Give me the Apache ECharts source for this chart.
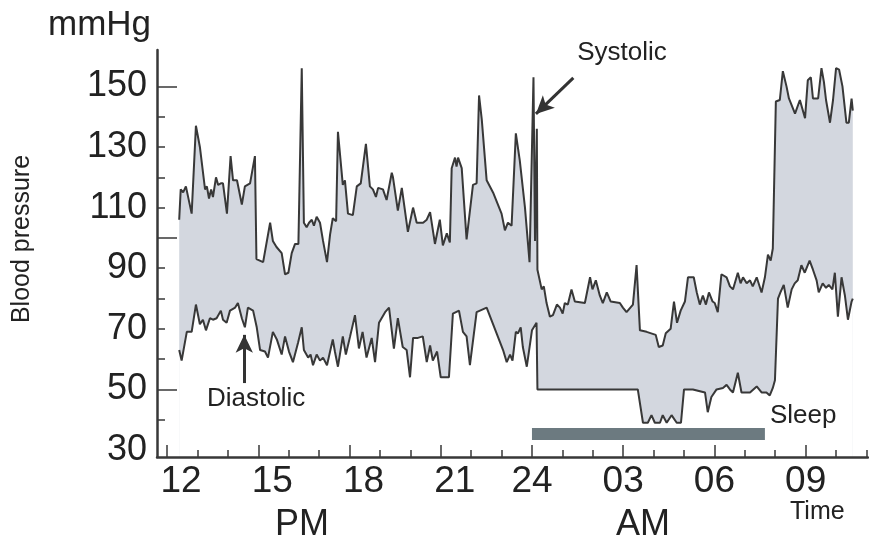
<!DOCTYPE html>
<html>
<head>
<meta charset="utf-8">
<style>
  html, body { margin: 0; padding: 0; background: #fff; }
  #chart { width: 869px; height: 543px; }
</style>
<script src="https://cdn.jsdelivr.net/npm/echarts@6.0.0/dist/echarts.min.js"></script>
</head>
<body>
<div id="chart"></div>
<script>
// time is in hours counted from noon of day 1 (24 = midnight, 27 = 03 AM, 33 = 09 AM)
const sysTime = [
  12.40, 12.45, 12.53, 12.62, 12.81, 12.95, 13.08, 13.25, 13.31, 13.38,
  13.45, 13.51, 13.61, 13.68, 13.77, 13.84, 13.97, 14.09, 14.17, 14.30,
  14.46, 14.56, 14.73, 14.89, 14.94, 15.16, 15.39, 15.48, 15.60, 15.77,
  15.88, 15.99, 16.10, 16.21, 16.32, 16.43, 16.50, 16.59, 16.67, 16.76,
  16.83, 16.92, 17.03, 17.13, 17.26, 17.36, 17.45, 17.56, 17.62, 17.78,
  17.85, 17.95, 18.11, 18.24, 18.37, 18.54, 18.67, 18.77, 18.87, 18.94,
  19.10, 19.22, 19.39, 19.43, 19.59, 19.72, 19.92, 20.09, 20.21, 20.32,
  20.42, 20.54, 20.65, 20.81, 20.97, 21.07, 21.20, 21.30, 21.36, 21.47,
  21.52, 21.57, 21.63, 21.69, 21.85, 22.06, 22.18, 22.26, 22.35, 22.51,
  22.72, 23.00, 23.11, 23.21, 23.33, 23.47, 23.60, 23.77, 23.87, 23.92,
  24.05, 24.10, 24.16, 24.18, 24.32, 24.39, 24.48, 24.59, 24.69, 24.82,
  24.92, 25.01, 25.08, 25.18, 25.30, 25.41, 25.74, 25.91, 25.99, 26.10,
  26.23, 26.33, 26.46, 26.59, 26.89, 26.99, 27.11, 27.32, 27.44, 27.55,
  27.77, 28.07, 28.17, 28.30, 28.40, 28.56, 28.67, 28.77, 28.89, 29.03,
  29.13, 29.32, 29.42, 29.52, 29.62, 29.72, 29.82, 29.94, 30.01, 30.11,
  30.23, 30.40, 30.51, 30.61, 30.77, 30.86, 30.94, 31.06, 31.17, 31.26,
  31.39, 31.55, 31.66, 31.76, 31.85, 31.92, 32.02, 32.15, 32.25, 32.37,
  32.45, 32.65, 32.81, 32.98, 33.07, 33.17, 33.24, 33.41, 33.52, 33.60,
  33.67, 33.80, 33.90, 34.00, 34.10, 34.21, 34.34, 34.42, 34.51, 34.55
];
const sysValue = [
  106, 116, 115, 117, 108, 137, 130, 116, 117, 113,
  116, 113.5, 120, 117.5, 118, 118, 108, 127, 119, 119,
  111, 117, 118, 127, 93, 92, 105, 99, 97, 95,
  88, 88.5, 95, 98, 98, 156, 105, 103.5, 105, 106,
  104, 107, 105, 99, 92, 101, 106.5, 105.5, 135, 117.5,
  119, 108, 107.5, 117, 118, 131, 117, 116, 113.5, 116.5,
  116, 112.5, 121.5, 120, 109, 116.5, 102, 110, 105, 105,
  105, 106, 108.5, 98, 106, 97.5, 101.5, 98.5, 123, 126.5,
  123.5, 126.5, 126.5, 123, 99.5, 117.5, 118, 147, 139, 119,
  115, 108, 102.5, 105, 104, 134.5, 125.5, 110, 98, 92,
  153, 99, 136, 89.5, 83, 84, 78.5, 74, 74.5, 78,
  77, 75, 78.5, 78, 83, 79, 78.5, 87, 83, 86,
  81, 78.5, 82, 79, 78.5, 77, 75.5, 78, 91, 69.5,
  69, 68, 64, 64.5, 68.5, 70, 79, 72, 76, 79,
  87, 87, 82, 78, 81, 78, 82, 79, 78.5, 75.5,
  88, 87, 84, 83, 88.5, 85, 87, 85, 86, 84,
  87, 82, 87, 94.5, 92.5, 96.5, 145, 145.5, 155, 150,
  146, 141, 145.5, 139.5, 152, 153, 146, 146, 156, 151.5,
  145.5, 138, 145.5, 156, 155.5, 150, 138, 138, 146, 142
];
const diaTime = [
  12.40, 12.48, 12.65, 12.81, 12.95, 13.08, 13.18, 13.28, 13.41, 13.51,
  13.63, 13.77, 13.84, 13.96, 14.07, 14.24, 14.33, 14.46, 14.56, 14.66,
  14.83, 14.95, 15.06, 15.22, 15.32, 15.48, 15.61, 15.77, 15.88, 16.01,
  16.14, 16.31, 16.43, 16.50, 16.64, 16.72, 16.80, 16.92, 17.03, 17.13,
  17.26, 17.45, 17.52, 17.62, 17.78, 17.88, 18.02, 18.18, 18.31, 18.43,
  18.56, 18.73, 18.84, 18.97, 19.17, 19.30, 19.46, 19.59, 19.75, 19.88,
  19.99, 20.09, 20.25, 20.41, 20.54, 20.65, 20.74, 20.88, 21.00, 21.27,
  21.40, 21.60, 21.73, 21.85, 21.96, 22.18, 22.51, 23.05, 23.17, 23.28,
  23.36, 23.47, 23.54, 23.63, 23.70, 23.83, 24.00, 24.15, 24.18, 27.48,
  27.65, 27.81, 27.93, 28.04, 28.21, 28.30, 28.43, 28.59, 28.76, 28.90,
  29.00, 29.29, 29.69, 29.78, 29.90, 30.07, 30.28, 30.40, 30.51, 30.61,
  30.77, 30.89, 31.06, 31.17, 31.39, 31.55, 31.71, 31.82, 31.92, 31.99,
  32.09, 32.17, 32.28, 32.41, 32.54, 32.64, 32.74, 32.86, 32.97, 33.13,
  33.24, 33.36, 33.43, 33.56, 33.67, 33.76, 33.88, 33.96, 34.06, 34.18,
  34.29, 34.39, 34.51, 34.55
];
const diaValue = [
  63, 59.5, 69, 69, 78, 71.5, 73, 69.5, 73.5, 73,
  73.5, 76, 73, 72, 76, 77, 78.5, 73.5, 70.5, 77,
  76, 70.5, 63, 62.5, 60.5, 69, 66.5, 61.5, 67.5, 62.5,
  59, 65.5, 70.5, 63, 60.5, 61.5, 58, 61.5, 59.5, 60.5,
  58, 66.5, 62.5, 57.5, 67.5, 61.5, 67.5, 74.5, 63.5, 69,
  60.5, 67, 59, 72, 75.5, 77, 63.5, 73.5, 64, 63,
  54, 67, 67, 67.5, 59, 64.5, 59.5, 62.5, 54, 54,
  75, 76, 69, 67.5, 58, 75.5, 77, 63, 59, 61.5,
  59.5, 69, 68.5, 70.5, 64, 57.5, 69.5, 72, 50, 50,
  39, 39, 41.5, 39, 39, 41.5, 39, 41.5, 39, 39,
  50, 50, 49, 42.5, 47.5, 50, 50.5, 51.5, 50, 49,
  55.5, 49, 49, 49, 51, 49, 49, 48, 50.5, 53,
  80, 82, 84.5, 77, 83, 85, 86, 91, 88.5, 92.5,
  89.5, 86, 82, 85, 83.5, 84.5, 83, 88.5, 74, 87,
  81, 73, 79, 80
];
const hourTicks = [12, 15, 18, 21, 24, 27, 30, 33];
const hourText = ['12', '15', '18', '21', '24', '03', '06', '09'];
const valueTicks = [30, 50, 70, 90, 110, 130, 150];
const sleepSpan = [24.0, 31.66];
const sleepLevel = 35.3;

const FONT = "'Liberation Sans', Arial, sans-serif";
const INK = '#222';
const LINE = '#383838';

const hourly = [];
for (let h = 12; h <= 35; h++) hourly.push(h);
const tens = [];
for (let v = 40; v <= 150; v += 10) tens.push(v);

const chart = echarts.init(document.getElementById('chart'));

const pair = (xs, ys) => xs.map((x, i) => [x, ys[i]]);

const xRange = { min: 11.67, max: 35.05 };
const yRange = { min: 27.7, max: 162 };

chart.setOption({
  animation: false,
  backgroundColor: '#fff',
  grid: { left: 157, right: 1, top: 50, bottom: 86 },
  xAxis: [{
    type: 'value', min: xRange.min, max: xRange.max, z: 10,
    axisLine: { show: true, lineStyle: { color: LINE, width: 2.5 } },
    axisTick: { show: true, inside: true, length: 7, customValues: hourly, lineStyle: { color: LINE, width: 1.5 } },
    splitLine: { show: false },
    axisLabel: {
      customValues: hourTicks, margin: 6, color: INK, fontSize: 37, fontFamily: FONT,
      formatter: v => {
        const t = hourText[hourTicks.indexOf(Math.round(v))];
        return v < 24 ? '{pm|' + t + '}' : t;
      },
      rich: { pm: { padding: [0, 0, 0, 28], fontSize: 37, fontFamily: FONT, color: INK } }
    }
  }, {
    type: 'value', min: xRange.min, max: xRange.max, position: 'bottom', z: 10,
    axisLine: { show: false },
    axisTick: { show: true, inside: true, length: 12, customValues: hourTicks, lineStyle: { color: LINE, width: 1.5 } },
    axisLabel: { show: false },
    splitLine: { show: false }
  }],
  yAxis: [{
    type: 'value', min: yRange.min, max: yRange.max, z: 10,
    axisLine: { show: true, lineStyle: { color: LINE, width: 2.5 } },
    axisTick: { show: true, inside: true, length: 8, customValues: tens, lineStyle: { color: LINE, width: 1.5 } },
    splitLine: { show: false },
    axisLabel: { customValues: valueTicks, margin: 10, color: INK, fontSize: 36, fontFamily: FONT }
  }, {
    type: 'value', min: yRange.min, max: yRange.max, position: 'left', z: 10,
    axisLine: { show: false },
    axisTick: { show: true, inside: true, length: 20, customValues: [50, 100, 150], lineStyle: { color: LINE, width: 1.5 } },
    axisLabel: { show: false },
    splitLine: { show: false }
  }],
  series: [{
    name: 'Systolic', type: 'line', z: 2,
    data: pair(sysTime, sysValue),
    showSymbol: false,
    lineStyle: { color: LINE, width: 2 },
    areaStyle: { color: '#d3d7df', opacity: 1, origin: 'start' }
  }, {
    name: 'Diastolic', type: 'line', z: 3,
    data: pair(diaTime, diaValue),
    showSymbol: false,
    lineStyle: { color: LINE, width: 2 },
    areaStyle: { color: '#ffffff', opacity: 1, origin: 'start' }
  }, {
    name: 'Sleep', type: 'line', z: 5,
    data: sleepSpan.map(t => [t, sleepLevel]),
    showSymbol: false,
    lineStyle: { color: '#6c7a80', width: 12, cap: 'butt' },
    markLine: {
      silent: true,
      symbol: ['none', 'arrow'],
      symbolSize: [13, 18],
      label: { show: false },
      lineStyle: { color: '#333', width: 3, type: 'solid' },
      data: [
        [{ coord: [25.36, 152.8] }, { coord: [24.13, 140.9] }],
        [{ coord: [14.54, 52.1] }, { coord: [14.54, 68.0] }]
      ]
    }
  }],
  graphic: [
    { type: 'text', x: 48, y: 25, z: 100, style: { text: 'mmHg', fontSize: 35, fontFamily: FONT, fill: INK, align: 'left', verticalAlign: 'middle' } },
    { type: 'text', x: 22, y: 239, rotation: Math.PI / 2, z: 100, style: { text: 'Blood pressure', fontSize: 25, fontFamily: FONT, fill: INK, align: 'center', verticalAlign: 'middle' } },
    { type: 'text', x: 622, y: 53, z: 100, style: { text: 'Systolic', fontSize: 26, fontFamily: FONT, fill: INK, align: 'center', verticalAlign: 'middle' } },
    { type: 'text', x: 207, y: 399, z: 100, style: { text: 'Diastolic', fontSize: 26, fontFamily: FONT, fill: INK, align: 'left', verticalAlign: 'middle' } },
    { type: 'text', x: 770, y: 416, z: 100, style: { text: 'Sleep', fontSize: 26, fontFamily: FONT, fill: INK, align: 'left', verticalAlign: 'middle' } },
    { type: 'text', x: 790, y: 512, z: 100, style: { text: 'Time', fontSize: 25, fontFamily: FONT, fill: INK, align: 'left', verticalAlign: 'middle' } },
    { type: 'text', x: 302, y: 525, z: 100, style: { text: 'PM', fontSize: 36, fontFamily: FONT, fill: INK, align: 'center', verticalAlign: 'middle' } },
    { type: 'text', x: 643, y: 525, z: 100, style: { text: 'AM', fontSize: 36, fontFamily: FONT, fill: INK, align: 'center', verticalAlign: 'middle' } }
  ]
});
</script>
</body>
</html>
